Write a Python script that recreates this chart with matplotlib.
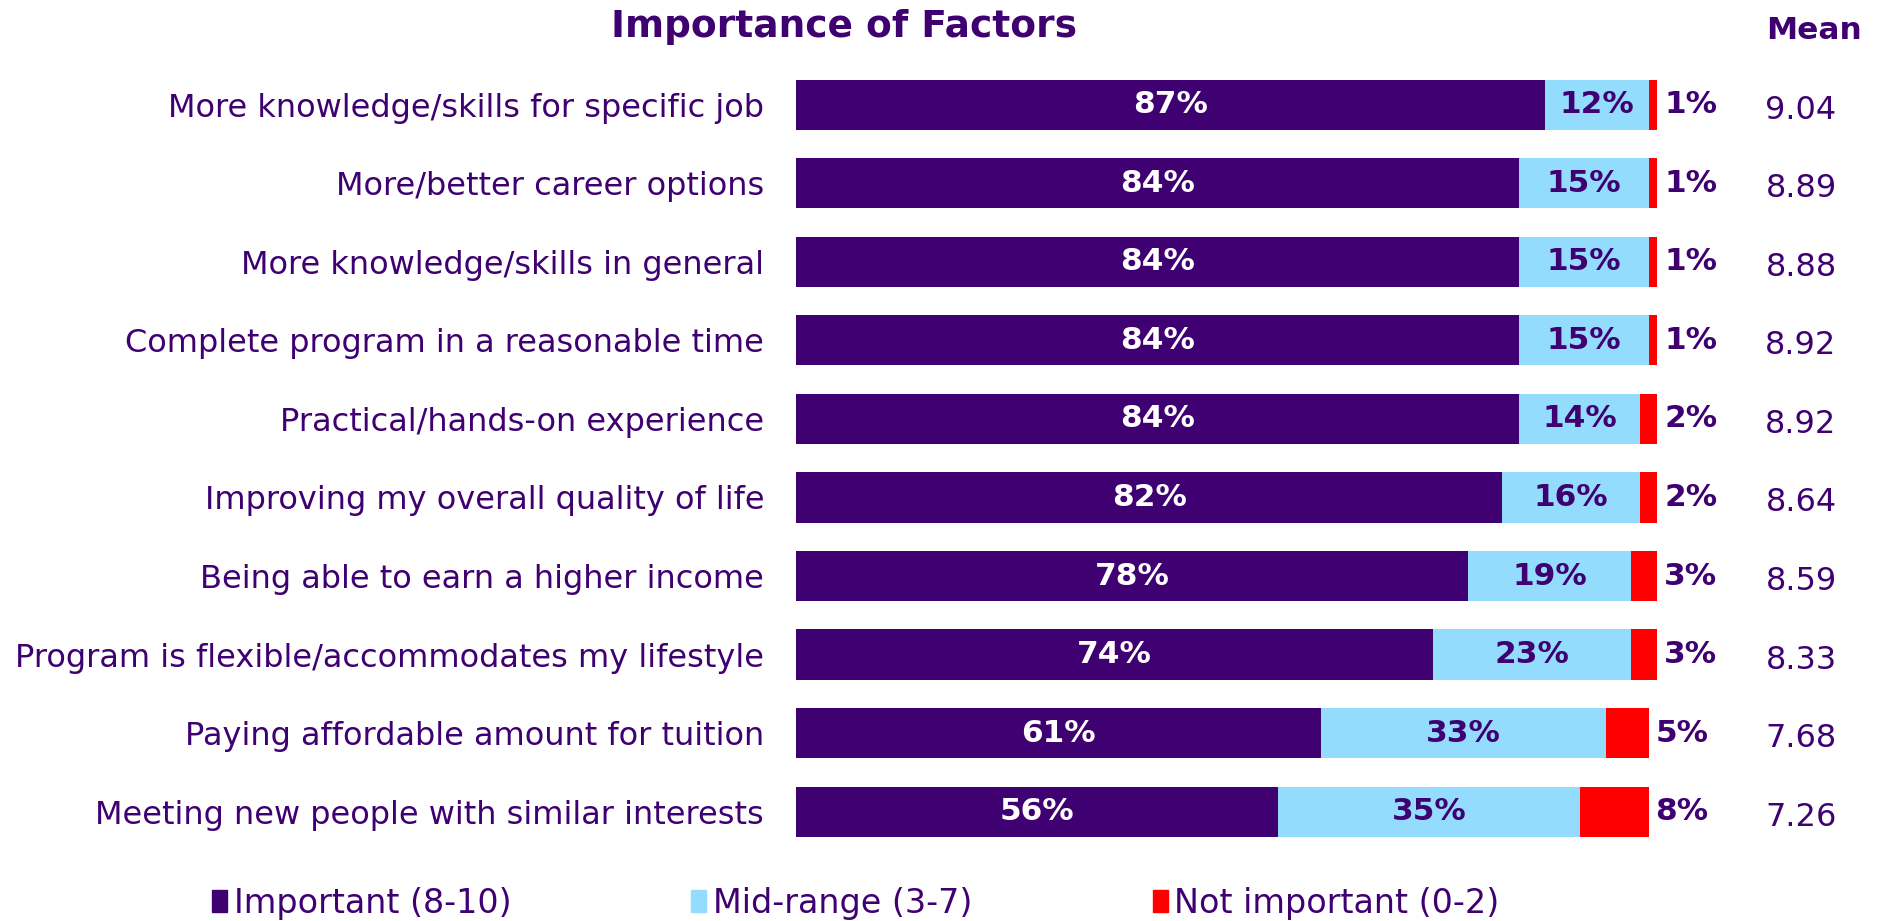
import numpy as np
import matplotlib.pyplot as plt
from matplotlib.patches import Patch

categories = [
    "More knowledge/skills for specific job",
    "More/better career options",
    "More knowledge/skills in general",
    "Complete program in a reasonable time",
    "Practical/hands-on experience",
    "Improving my overall quality of life",
    "Being able to earn a higher income",
    "Program is flexible/accommodates my lifestyle",
    "Paying affordable amount for tuition",
    "Meeting new people with similar interests",
]
important = [87, 84, 84, 84, 84, 82, 78, 74, 61, 56]
mid_range = [12, 15, 15, 15, 14, 16, 19, 23, 33, 35]
not_important = [1, 1, 1, 1, 2, 2, 3, 3, 5, 8]
means = [9.04, 8.89, 8.88, 8.92, 8.92, 8.64, 8.59, 8.33, 7.68, 7.26]
series_names = ["Important (8-10)", "Mid-range (3-7)", "Not important (0-2)"]

purple = "#3f0071"
blue = "#93dcfd"
red = "#ff0000"

plt.rcParams['font.family'] = ['DejaVu Sans']

fig = plt.figure(figsize=(18.83, 9.21), dpi=100)
ax = fig.add_axes([0.4228, 0.076, 0.8801 - 0.4228, 0.853])

y = np.arange(len(categories))
imp = np.array(important)
mid = np.array(mid_range)
low = np.array(not_important)
h = 0.64

ax.barh(y, imp, height=h, color=purple)
ax.barh(y, mid, left=imp, height=h, color=blue)
ax.barh(y, low, left=imp + mid, height=h, color=red)

for i in range(len(categories)):
    ax.text(imp[i] / 2, y[i], f"{important[i]}%", ha='center', va='center',
            color='white', fontsize=22.5, fontweight='bold')
    ax.text(imp[i] + mid[i] / 2, y[i], f"{mid_range[i]}%", ha='center', va='center',
            color=purple, fontsize=22.5, fontweight='bold')
    ax.text(imp[i] + mid[i] + low[i] + 0.8, y[i], f"{not_important[i]}%",
            ha='left', va='center', color=purple, fontsize=22.5, fontweight='bold',
            clip_on=False)
    ax.text(116.7, y[i] + 0.07, f"{means[i]:.2f}", ha='center', va='center',
            color=purple, fontsize=23, clip_on=False)

ax.set_xlim(0, 100)
ax.set_ylim(len(categories) - 0.5, -0.5)
ax.set_yticks(y)
ax.set_yticklabels(categories, fontsize=23, color=purple)
ax.tick_params(axis='y', length=0, pad=23)
ax.set_xticks([])
for s in ax.spines.values():
    s.set_visible(False)

fig.text(0.448, 0.971, "Importance of Factors", ha='center', va='center',
         fontsize=27, fontweight='bold', color=purple)
fig.text(0.9635, 0.967, "Mean", ha='center', va='center',
         fontsize=22.5, fontweight='bold', color=purple)

handles = [Patch(color=c) for c in (purple, blue, red)]
leg = fig.legend(handles, series_names, loc='center left', bbox_to_anchor=(0.1056, 0.019),
                 ncol=3, frameon=False, fontsize=24, handlelength=0.45, handleheight=0.65,
                 handletextpad=0.2, columnspacing=5.4, borderaxespad=0)
for t in leg.get_texts():
    t.set_color(purple)

fig.savefig("out.png", dpi=100)
